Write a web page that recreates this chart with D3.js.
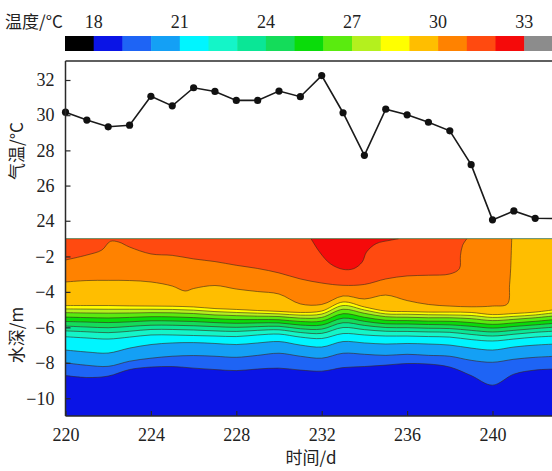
<!DOCTYPE html>
<html><head><meta charset="utf-8">
<script src="https://cdn.jsdelivr.net/npm/d3@7"></script>
<style>body{margin:0;background:#fff}svg{display:block}</style>
</head><body>
<svg id="c" width="552" height="471"></svg>
<script>
// ---------- data ----------
const days = [220,221,222,223,224,225,226,227,228,229,230,231,232,233,234,235,236,237,238,239,240,241,242,243];
const airTemp = [30.17,29.72,29.34,29.43,31.07,30.53,31.56,31.35,30.84,30.84,31.37,31.05,32.25,30.14,27.72,30.34,30.02,29.60,29.11,27.19,24.05,24.56,24.14,24.12];

const airTicks = [24,26,28,30,32];
const depthTicks = [-2,-4,-6,-8,-10];
const dayTicks = [220,224,228,232,236,240];
const cbarTicks = [18,21,24,27,30,33];

// colour for each 1 °C class: <18, 18-19, ..., 32-33, >33
const levelColors = ["#000000","#0a14e6","#1e64f5","#14a0f5","#00f5ff","#14f5c8","#0ae696","#14dc5a","#0adc0a","#5aeb0f","#b4f01e","#ffff00","#ffbe00","#ff8200","#ff4a10","#f50a0a","#8c8c8c"];

// isotherm depths (m) per day
const iso19 = [-8.72,-8.83,-8.75,-8.38,-8.24,-8.21,-8.30,-8.38,-8.44,-8.35,-8.30,-8.41,-8.47,-8.27,-8.21,-8.13,-8.04,-8.07,-8.24,-8.72,-9.26,-8.64,-8.41,-8.35];
const iso20 = [-8.00,-8.14,-8.20,-7.91,-7.74,-7.63,-7.59,-7.63,-7.69,-7.58,-7.46,-7.63,-7.74,-7.46,-7.52,-7.58,-7.52,-7.58,-7.63,-7.86,-7.97,-7.80,-7.69,-7.63];
const iso21 = [-7.28,-7.39,-7.45,-7.17,-6.97,-6.88,-6.86,-6.91,-6.97,-6.88,-6.80,-7.00,-7.11,-6.80,-6.88,-6.94,-6.91,-6.94,-7.00,-7.17,-7.28,-7.11,-7.00,-6.94];
const iso22 = [-6.53,-6.60,-6.66,-6.55,-6.43,-6.43,-6.46,-6.49,-6.52,-6.43,-6.38,-6.55,-6.63,-6.35,-6.43,-6.49,-6.49,-6.52,-6.55,-6.69,-6.77,-6.66,-6.55,-6.49];
const iso23 = [-6.20,-6.25,-6.30,-6.22,-6.12,-6.12,-6.15,-6.20,-6.23,-6.17,-6.14,-6.29,-6.34,-6.01,-6.13,-6.22,-6.23,-6.26,-6.28,-6.40,-6.49,-6.39,-6.28,-6.21];
const iso24 = [-5.93,-5.98,-6.02,-5.95,-5.88,-5.88,-5.91,-5.96,-6.00,-5.96,-5.94,-6.08,-6.10,-5.74,-5.89,-6.01,-6.02,-6.05,-6.07,-6.17,-6.26,-6.17,-6.07,-5.98];
const iso25 = [-5.67,-5.70,-5.73,-5.69,-5.63,-5.64,-5.67,-5.73,-5.77,-5.75,-5.75,-5.87,-5.87,-5.48,-5.66,-5.80,-5.81,-5.84,-5.86,-5.94,-6.04,-5.95,-5.86,-5.76];
const iso26 = [-5.42,-5.45,-5.47,-5.44,-5.40,-5.41,-5.45,-5.51,-5.56,-5.56,-5.57,-5.67,-5.65,-5.23,-5.43,-5.60,-5.62,-5.65,-5.66,-5.73,-5.83,-5.75,-5.66,-5.55];
const iso27 = [-5.17,-5.19,-5.20,-5.19,-5.17,-5.18,-5.22,-5.30,-5.34,-5.37,-5.39,-5.48,-5.44,-4.98,-5.21,-5.40,-5.43,-5.46,-5.46,-5.51,-5.62,-5.55,-5.46,-5.34];
const iso28 = [-4.96,-4.97,-4.98,-4.98,-4.98,-4.99,-5.03,-5.11,-5.16,-5.20,-5.24,-5.31,-5.25,-4.77,-5.02,-5.24,-5.26,-5.29,-5.30,-5.33,-5.44,-5.38,-5.30,-5.16];
const iso29 = [-4.77,-4.77,-4.77,-4.79,-4.80,-4.81,-4.85,-4.94,-4.99,-5.05,-5.10,-5.16,-5.08,-4.57,-4.85,-5.08,-5.11,-5.14,-5.14,-5.16,-5.28,-5.22,-5.14,-4.99];
// warm isotherms that reach the surface: [day, depth]
const iso30 = [[220,-3.44],[221,-3.36],[222,-3.35],[223,-3.36],[224,-3.44],[225,-3.67],[225.6,-3.95],[226,-3.81],[227,-3.64],[228,-3.84],[229,-3.98],[230,-4.12],[231,-4.68],[232,-4.71],[233,-4.23],[234,-4.40],[235,-4.18],[236,-4.49],[237,-4.71],[238,-4.80],[239,-4.84],[240,-4.80],[240.7,-4.68],[240.8,-3.60],[240.85,-2.70],[240.9,-1.00]];
const iso31 = [[220,-2.20],[221,-1.92],[221.7,-1.64],[222.1,-1.15],[222.5,-1.19],[223,-1.47],[224,-1.86],[225,-1.94],[226,-2.14],[227,-2.29],[228,-2.50],[229,-2.68],[230,-2.93],[231,-3.27],[232,-3.50],[233,-3.63],[234,-3.58],[235,-3.27],[236,-3.10],[237,-3.06],[238,-2.99],[238.45,-2.69],[238.5,-1.94],[238.6,-1.37],[238.8,-1.00]];
const iso32 = [[231.5,-1.00],[231.9,-1.75],[232.4,-2.41],[233,-2.73],[233.5,-2.69],[233.9,-2.31],[234.1,-1.75],[234.55,-1.28],[235.2,-1.09],[235.6,-1.00]];

// ---------- drawing ----------
const W = 552, H = 471;
const svg = d3.select("#c");
const serif = "'Liberation Serif','Times New Roman',serif";
const cjk = "'Noto Sans CJK SC','Noto Sans',sans-serif";

const x = d3.scaleLinear().domain([220,244]).range([65.5, 65.5 + 24*21.35]);
const yT = d3.scaleLinear().domain([22.98,33.08]).range([238.7,61]);
const yD = d3.scaleLinear().domain([-1,-11]).range([238.7,416]);

// colour bar
const cx = d3.scaleLinear().domain([17,34]).range([65, 65 + 17*28.7]);
svg.append("g").selectAll("rect").data(levelColors).join("rect")
  .attr("x",(c,i)=>cx(17+i)).attr("width",(c,i)=>cx(18+i)-cx(17+i)+0.5)
  .attr("y",36).attr("height",15).attr("fill",c=>c);
svg.append("g").selectAll("text").data(cbarTicks).join("text")
  .attr("x",d=>cx(d)).attr("y",28).attr("text-anchor","middle")
  .attr("font-family",serif).attr("font-size",18).attr("fill","#222").text(d=>d);
svg.append("text").attr("x",5).attr("y",28).attr("font-family",cjk)
  .attr("font-size",17).attr("fill","#222").text("温度/°C");

// contour section
svg.append("clipPath").attr("id","clipB").append("rect")
  .attr("x",x(220)).attr("y",yD(-1)).attr("width",W-x(220)).attr("height",yD(-11)-yD(-1));
const gB = svg.append("g").attr("clip-path","url(#clipB)");
gB.append("rect").attr("x",x(220)).attr("y",yD(-1))
  .attr("width",x(244)-x(220)).attr("height",yD(-11)-yD(-1)).attr("fill",levelColors[1]);

const curve = d3.curveCatmullRom.alpha(0.5);
const area = d3.area().x(d=>x(d[0])).y0(yD(-1)).y1(d=>yD(d[1])).curve(curve);
const line = d3.line().x(d=>x(d[0])).y(d=>yD(d[1])).curve(curve);

const dailyIso = [iso19,iso20,iso21,iso22,iso23,iso24,iso25,iso26,iso27,iso28,iso29];
const bands = dailyIso.map((arr,k)=>({lo:19+k, pts: days.map((d,i)=>[d,arr[i]])}));
bands.push({lo:30, pts:iso30},{lo:31, pts:iso31},{lo:32, pts:iso32});

bands.forEach(b=>{
  gB.append("path").attr("d",area(b.pts)).attr("fill",levelColors[b.lo-17]);
});
bands.forEach(b=>{
  gB.append("path").attr("d",line(b.pts)).attr("fill","none")
    .attr("stroke","#3a2a1a").attr("stroke-opacity",0.75).attr("stroke-width",0.8);
});

// air temperature line
const gT = svg.append("g");
const pts = days.map((d,i)=>({day:d,t:airTemp[i]}));
gT.append("path").attr("d",d3.line().x(d=>x(d.day)).y(d=>yT(d.t))(pts))
  .attr("fill","none").attr("stroke","#1a1a1a").attr("stroke-width",1.6);
gT.selectAll("circle").data(pts).join("circle")
  .attr("cx",d=>x(d.day)).attr("cy",d=>yT(d.t)).attr("r",3.6).attr("fill","#111");

// frames
const frame = svg.append("g").attr("stroke","#2a2a2a").attr("stroke-width",1.5).attr("fill","none");
frame.append("line").attr("x1",x(220)).attr("x2",W).attr("y1",yT(33.08)).attr("y2",yT(33.08));
frame.append("line").attr("x1",x(220)).attr("x2",W).attr("y1",yD(-11)).attr("y2",yD(-11));
frame.append("line").attr("x1",x(220)).attr("x2",x(220)).attr("y1",yT(33.08)).attr("y2",yD(-11));
frame.append("line").attr("x1",x(220)).attr("x2",W).attr("y1",yD(-1)).attr("y2",yD(-1))
  .attr("stroke-width",0.8).attr("stroke-opacity",0.6);

// axes
function style(g){
  g.select(".domain").remove();
  g.selectAll(".tick line").attr("stroke","#2a2a2a").attr("stroke-width",1.2);
  g.selectAll(".tick text").attr("font-family",serif).attr("font-size",18).attr("fill","#222");
}
svg.append("g").attr("transform",`translate(${x(220)},0)`)
  .call(d3.axisLeft(yT).tickValues(airTicks).tickSize(-5).tickPadding(11)).call(style);
svg.append("g").attr("transform",`translate(${x(220)},0)`)
  .call(d3.axisLeft(yD).tickValues(depthTicks).tickSize(-5).tickPadding(11)
    .tickFormat(d=>d<0?"\u2212"+Math.abs(d):d)).call(style);
svg.append("g").attr("transform",`translate(0,${yD(-11)})`)
  .call(d3.axisBottom(x).tickValues(dayTicks).tickSize(-5).tickPadding(12)).call(style);

// axis titles
svg.append("text").attr("transform","translate(23,151) rotate(-90)").attr("text-anchor","middle")
  .attr("font-family",cjk).attr("font-size",17).attr("fill","#222").text("气温/°C");
svg.append("text").attr("transform","translate(23,335) rotate(-90)").attr("text-anchor","middle")
  .attr("font-family",cjk).attr("font-size",17).attr("fill","#222").text("水深/m");
svg.append("text").attr("x",311).attr("y",464).attr("text-anchor","middle")
  .attr("font-family",cjk).attr("font-size",17).attr("fill","#222").text("时间/d");
</script>
</body></html>
